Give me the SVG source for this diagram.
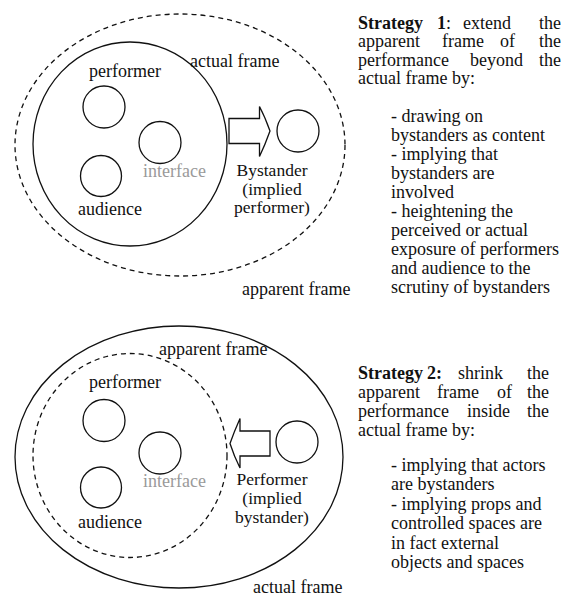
<svg xmlns="http://www.w3.org/2000/svg" width="561" height="596" viewBox="0 0 561 596">
<style>
text{font-family:"Liberation Serif","Times New Roman",serif;font-size:18px;fill:#111}
.b{font-weight:bold}
.g{fill:#9a9a9a}
.m{text-anchor:middle}
.e{text-anchor:end}
.s{font-size:17.5px}
.ln{fill:none;stroke:#111;stroke-width:1.3}
.d{fill:none;stroke:#111;stroke-width:1.3;stroke-dasharray:5 4}
.ar{fill:#fff;stroke:#111;stroke-width:1.3;stroke-linejoin:miter}
</style>
<rect width="561" height="596" fill="#fff"/>

<!-- Strategy 1 diagram -->
<g id="apparent-frame-1">
<ellipse class="d" cx="180" cy="145" rx="165" ry="131"/>
<text x="242" y="295">apparent frame</text>
</g>
<g id="actual-frame-1">
<ellipse class="ln" cx="130" cy="144" rx="97" ry="102"/>
<text x="190" y="67">actual frame</text>
</g>
<g id="performer-1">
<circle class="ln" cx="104" cy="107" r="21"/>
<text x="89" y="77">performer</text>
</g>
<g id="interface-1">
<circle class="ln" cx="160" cy="142.5" r="21"/>
<text class="g" x="143" y="177">interface</text>
</g>
<g id="audience-1">
<circle class="ln" cx="101" cy="176" r="20.5"/>
<text x="78" y="215">audience</text>
</g>
<g id="bystander-1">
<circle class="ln" cx="298" cy="131" r="21"/>
<text class="m s" x="272" y="176">Bystander</text>
<text class="m s" x="272" y="194.5">(implied</text>
<text class="m s" x="272" y="213">performer)</text>
</g>

<!-- Strategy 2 diagram -->
<g id="actual-frame-2">
<ellipse class="ln" cx="179" cy="457" rx="164" ry="131"/>
<text x="253" y="593">actual frame</text>
</g>
<g id="apparent-frame-2">
<ellipse class="d" cx="130" cy="455.5" rx="97" ry="102"/>
<text x="159" y="355">apparent frame</text>
</g>
<g id="performer-2">
<circle class="ln" cx="104" cy="420.5" r="21"/>
<text x="89" y="388">performer</text>
</g>
<g id="interface-2">
<circle class="ln" cx="160" cy="453" r="21"/>
<text class="g" x="143" y="487">interface</text>
</g>
<g id="audience-2">
<circle class="ln" cx="101" cy="487.5" r="20.5"/>
<text x="78" y="528">audience</text>
</g>
<g id="bystander-2">
<circle class="ln" cx="297" cy="442" r="21"/>
<text class="m s" x="272" y="485">Performer</text>
<text class="m s" x="272" y="504">(implied</text>
<text class="m s" x="272" y="523">bystander)</text>
</g>

<!-- connectors -->
<g id="connectors">
<path class="ar" d="M229,118.5 H259.5 V106.5 Q265,117 270,131 Q265,145 259.5,156.5 V143.5 H229 Z"/>
<path class="ar" d="M270,431 H240 V418.5 Q234,432 230,443.5 Q234,456 240,468 V456 H270 Z"/>
</g>

<!-- Strategy 1 text -->
<g id="strategy-1-text">
<text class="b" x="358" y="28.5">Strategy</text>
<text x="437" y="28.5"><tspan class="b">1</tspan>:</text>
<text x="463" y="28.5">extend</text>
<text class="e" x="561" y="28.5">the</text>
<text x="358" y="47">apparent</text>
<text x="442" y="47">frame</text>
<text x="500" y="47">of</text>
<text class="e" x="561" y="47">the</text>
<text x="358" y="65.5">performance</text>
<text x="470" y="65.5">beyond</text>
<text class="e" x="561" y="65.5">the</text>
<text x="358" y="84">actual frame by:</text>
<text x="391" y="122">- drawing on</text>
<text x="391" y="141">bystanders as content</text>
<text x="391" y="160">- implying that</text>
<text x="391" y="179">bystanders are</text>
<text x="391" y="198">involved</text>
<text x="391" y="217">- heightening the</text>
<text x="391" y="236">perceived or actual</text>
<text x="391" y="255">exposure of performers</text>
<text x="391" y="274">and audience to the</text>
<text x="391" y="293">scrutiny of bystanders</text>
</g>

<!-- Strategy 2 text -->
<g id="strategy-2-text">
<text class="b" x="358" y="378.5">Strategy</text>
<text class="b" x="427" y="378.5">2:</text>
<text x="458" y="378.5">shrink</text>
<text class="e" x="549" y="378.5">the</text>
<text x="358" y="397.5">apparent</text>
<text x="437" y="397.5">frame</text>
<text x="497" y="397.5">of</text>
<text class="e" x="549" y="397.5">the</text>
<text x="358" y="416.5">performance</text>
<text x="467" y="416.5">inside</text>
<text class="e" x="549" y="416.5">the</text>
<text x="358" y="435.5">actual frame by:</text>
<text x="391" y="470.5">- implying that actors</text>
<text x="391" y="490">are bystanders</text>
<text x="391" y="509.5">- implying props and</text>
<text x="391" y="529">controlled spaces are</text>
<text x="391" y="548.5">in fact external</text>
<text x="391" y="568">objects and spaces</text>
</g>
</svg>
